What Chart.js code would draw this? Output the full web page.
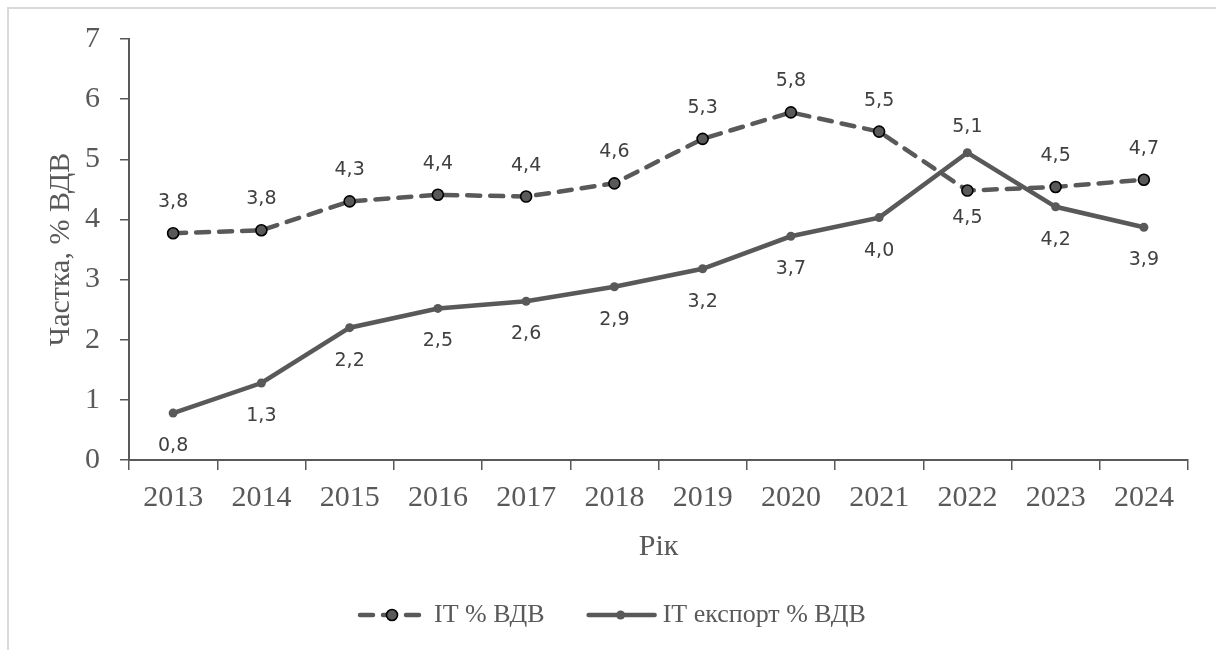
<!DOCTYPE html>
<html>
<head>
<meta charset="utf-8">
<script src="https://cdn.jsdelivr.net/npm/chart.js@4"></script>
<style>
  html, body { margin: 0; padding: 0; background: #fff; }
  #wrap { position: relative; width: 1216px; height: 650px; overflow: hidden; }
  #frame { position: absolute; left: 7px; top: 7px; width: 1400px; height: 900px;
           border-top: 2px solid #d9d9d9; border-left: 2px solid #d9d9d9; }
  #chart { position: absolute; left: 0; top: 0; }
</style>
</head>
<body>
<div id="wrap">
  <div id="frame"></div>
  <canvas id="chart" width="1216" height="650"></canvas>
</div>
<script>
var years = ["2013", "2014", "2015", "2016", "2017", "2018", "2019", "2020", "2021", "2022", "2023", "2024"];
var itShare = [3.77, 3.82, 4.30, 4.41, 4.38, 4.60, 5.34, 5.78, 5.46, 4.48, 4.54, 4.66];
var itExport = [0.78, 1.28, 2.20, 2.52, 2.64, 2.88, 3.18, 3.72, 4.03, 5.11, 4.21, 3.87];
var seriesNames = ["IT % ВДВ", "IT експорт % ВДВ"];
var yMin = 0, yMax = 7, yStep = 1;

var grey = "#595959";
var serif = "'Liberation Serif', 'Times New Roman', serif";

function formatValue(v) {
  return v.toFixed(1).replace(".", ",");
}

// value labels above / below each point
var valueLabels = {
  id: "valueLabels",
  afterDatasetsDraw: function(chart) {
    var ctx = chart.ctx;
    ctx.save();
    ctx.font = "19px 'DejaVu Sans', sans-serif";
    ctx.fillStyle = "#404040";
    ctx.textAlign = "center";
    ctx.textBaseline = "middle";
    chart.data.datasets.forEach(function(ds, i) {
      var meta = chart.getDatasetMeta(i);
      meta.data.forEach(function(pt, j) {
        var place = ds.labelPlace[j];
        var dy = place === "above" ? -ds.labelGap[0] : ds.labelGap[1];
        ctx.fillText(formatValue(ds.data[j]), pt.x, pt.y + dy);
      });
    });
    ctx.restore();
  }
};

// legend drawn as line samples with a marker in the middle
var lineLegend = {
  id: "lineLegend",
  afterDraw: function(chart) {
    var ctx = chart.ctx;
    var y = 615;
    var x = 358;
    ctx.save();
    ctx.font = "26px " + serif;
    ctx.textBaseline = "middle";
    chart.data.datasets.forEach(function(ds) {
      var len = 68;
      ctx.strokeStyle = ds.borderColor;
      ctx.lineWidth = ds.borderWidth;
      ctx.lineCap = "round";
      ctx.setLineDash(ds.borderDash || []);
      ctx.beginPath();
      ctx.moveTo(x + 2, y);
      ctx.lineTo(x + len, y);
      ctx.stroke();
      ctx.setLineDash([]);
      ctx.beginPath();
      ctx.arc(x + len / 2, y, ds.pointRadius, 0, Math.PI * 2);
      ctx.fillStyle = ds.pointBackgroundColor;
      ctx.fill();
      if (ds.pointBorderWidth > 0) {
        ctx.lineWidth = ds.pointBorderWidth;
        ctx.strokeStyle = ds.pointBorderColor;
        ctx.stroke();
      }
      ctx.fillStyle = grey;
      ctx.fillText(ds.label, x + len + 8, y);
      x += len + 8 + ctx.measureText(ds.label).width + 42;
    });
    ctx.restore();
  }
};

var ctx = document.getElementById("chart");
var chart = new Chart(ctx, {
  type: "line",
  data: {
    labels: years,
    datasets: [{
      label: seriesNames[0],
      data: itShare,
      order: 2,
      borderColor: grey,
      borderWidth: 4.5,
      borderDash: [13, 10],
      borderCapStyle: "round",
      pointRadius: 5.5,
      pointBackgroundColor: grey,
      pointBorderColor: "#000",
      pointBorderWidth: 1.6,
      tension: 0,
      clip: false,
      labelPlace: ["above", "above", "above", "above", "above", "above", "above", "above", "above", "below", "above", "above"],
      labelGap: [31, 28]
    }, {
      label: seriesNames[1],
      data: itExport,
      order: 1,
      borderColor: grey,
      borderWidth: 4.5,
      borderCapStyle: "round",
      pointRadius: 4.5,
      pointBackgroundColor: grey,
      pointBorderColor: grey,
      pointBorderWidth: 0,
      tension: 0,
      clip: false,
      labelPlace: ["below", "below", "below", "below", "below", "below", "below", "below", "below", "above", "below", "below"],
      labelGap: [26, 33]
    }]
  },
  options: {
    responsive: false,
    animation: false,
    devicePixelRatio: 1,
    layout: { padding: { top: 39, right: 28, left: 0, bottom: 80 } },
    plugins: {
      legend: { display: false },
      tooltip: { enabled: false }
    },
    scales: {
      x: {
        offset: true,
        grid: { offset: true, drawOnChartArea: false, drawTicks: true, tickLength: 10, color: grey, lineWidth: 1.5 },
        border: { color: grey, width: 2 },
        ticks: { color: grey, font: { family: serif, size: 30 }, padding: 10, maxRotation: 0 },
        title: { display: true, text: "Рік", color: grey, font: { family: serif, size: 30 }, padding: { top: 5, bottom: 5 } },
        afterFit: function(scale) { scale.height = 110; }
      },
      y: {
        min: yMin,
        max: yMax,
        grid: { drawOnChartArea: false, drawTicks: true, tickLength: 9, color: grey, lineWidth: 1.5 },
        border: { color: grey, width: 2 },
        ticks: { stepSize: yStep, color: grey, font: { family: serif, size: 30 }, padding: 20 },
        title: { display: true, text: "Частка, % ВДВ", color: grey, font: { family: serif, size: 30 }, padding: { top: 43, bottom: 0 } },
        afterFit: function(scale) { scale.width = 129; }
      }
    }
  },
  plugins: [valueLabels, lineLegend]
});
</script>
</body>
</html>
